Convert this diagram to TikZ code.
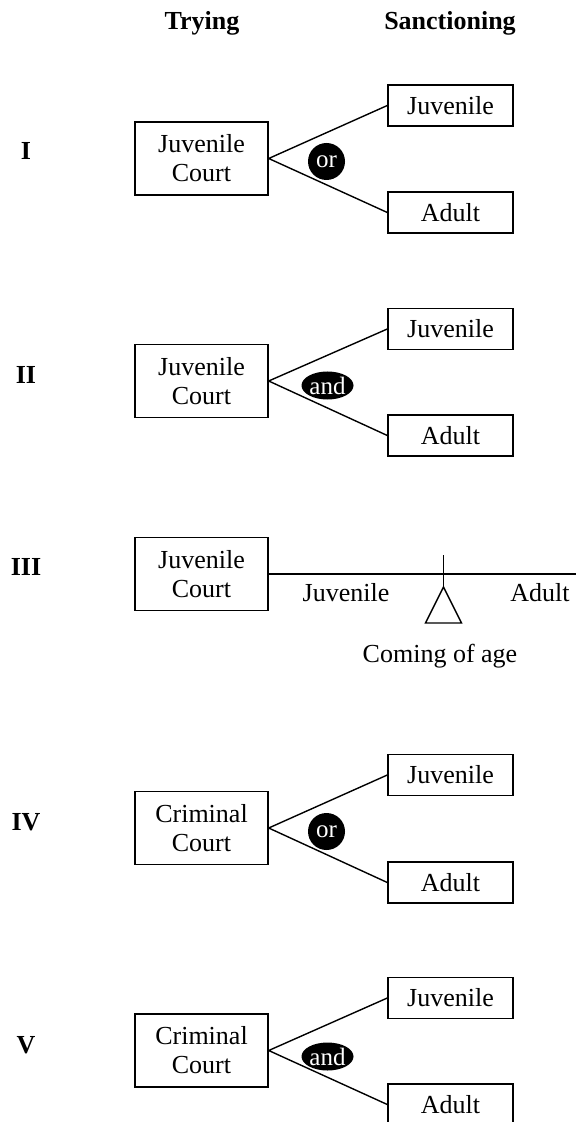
\documentclass[tikz,border=0pt]{standalone}
\usepackage{fontspec}
\setmainfont{Liberation Serif}
\usetikzlibrary{shapes.geometric}

\tikzset{
  court/.style = {draw, align = center, minimum width = 66.5pt, minimum height = 36.5pt, inner sep = 0pt},
  sanction/.style = {draw, minimum width = 62.5pt, minimum height = 20.5pt, inner sep = 0pt},
  oroperator/.style = {circle, fill = black, text = white, minimum size = 18.5pt, inner sep = 0pt, font = \fontsize{12.5}{14}\selectfont},
  andoperator/.style = {ellipse, fill = black, text = white, minimum width = 26pt, minimum height = 14pt, inner sep = 0pt, font = \fontsize{12.5}{14}\selectfont},
  heading/.style = {font = \fontsize{13}{14.5}\selectfont\bfseries},
}

\begin{document}
\begin{tikzpicture}[x = 0.5pt, y = -0.5pt, line width = 0.7pt, font = \fontsize{13}{14.5}\selectfont]

      \useasboundingbox (0, 0) rectangle (576, 1122);

      \node[heading, anchor = base] (trying) at (202, 30) {Trying};
      \node[heading, anchor = base] (sanctioning) at (450, 30) {Sanctioning};

      % I
      \node[heading] (num1) at (26, 151) {I};
      \node[court] (c1) at (201.5, 158.5) {Juvenile\\Court};
      \node[sanction] (j1) at (450.5, 105.5) {Juvenile};
      \node[sanction] (a1) at (450.5, 212.5) {Adult};
      \draw (j1.west) -- (c1.east) -- (a1.west);
      \node[oroperator] (op1) at (326.5, 161.5) {or};

      % II
      \node[heading] (num2) at (26, 375) {II};
      \node[court] (c2) at (201.5, 381) {Juvenile\\Court};
      \node[sanction] (j2) at (450.5, 329) {Juvenile};
      \node[sanction] (a2) at (450.5, 435.5) {Adult};
      \draw (j2.west) -- (c2.east) -- (a2.west);
      \node[andoperator] (op2) at (327.5, 385.5) {and};

      % III
      \node[heading] (num3) at (26, 567) {III};
      \node[court] (c3) at (201.5, 574) {Juvenile\\Court};
      \coordinate (lineend) at (576, 574);
      \draw (c3.east) -- (lineend);
      \draw (443.5, 555) -- (443.5, 587);
      \draw (443.5, 587) -- (425.5, 623) -- (461.5, 623) -- cycle;
      \node (juvenile) at (346, 593) {Juvenile};
      \node (adult) at (540, 593) {Adult};
      \node (age) at (440, 656) {Coming of age};

      % IV
      \node[heading] (num4) at (26, 822) {IV};
      \node[court] (c4) at (201.5, 828) {Criminal\\Court};
      \node[sanction] (j4) at (450.5, 775) {Juvenile};
      \node[sanction] (a4) at (450.5, 882.5) {Adult};
      \draw (j4.west) -- (c4.east) -- (a4.west);
      \node[oroperator] (op4) at (326.5, 831.5) {or};

      % V
      \node[heading] (num5) at (26, 1045) {V};
      \node[court] (c5) at (201.5, 1050.5) {Criminal\\Court};
      \node[sanction] (j5) at (450.5, 998) {Juvenile};
      \node[sanction] (a5) at (450.5, 1104.5) {Adult};
      \draw (j5.west) -- (c5.east) -- (a5.west);
      \node[andoperator] (op5) at (327.5, 1056.5) {and};

\end{tikzpicture}
\end{document}
